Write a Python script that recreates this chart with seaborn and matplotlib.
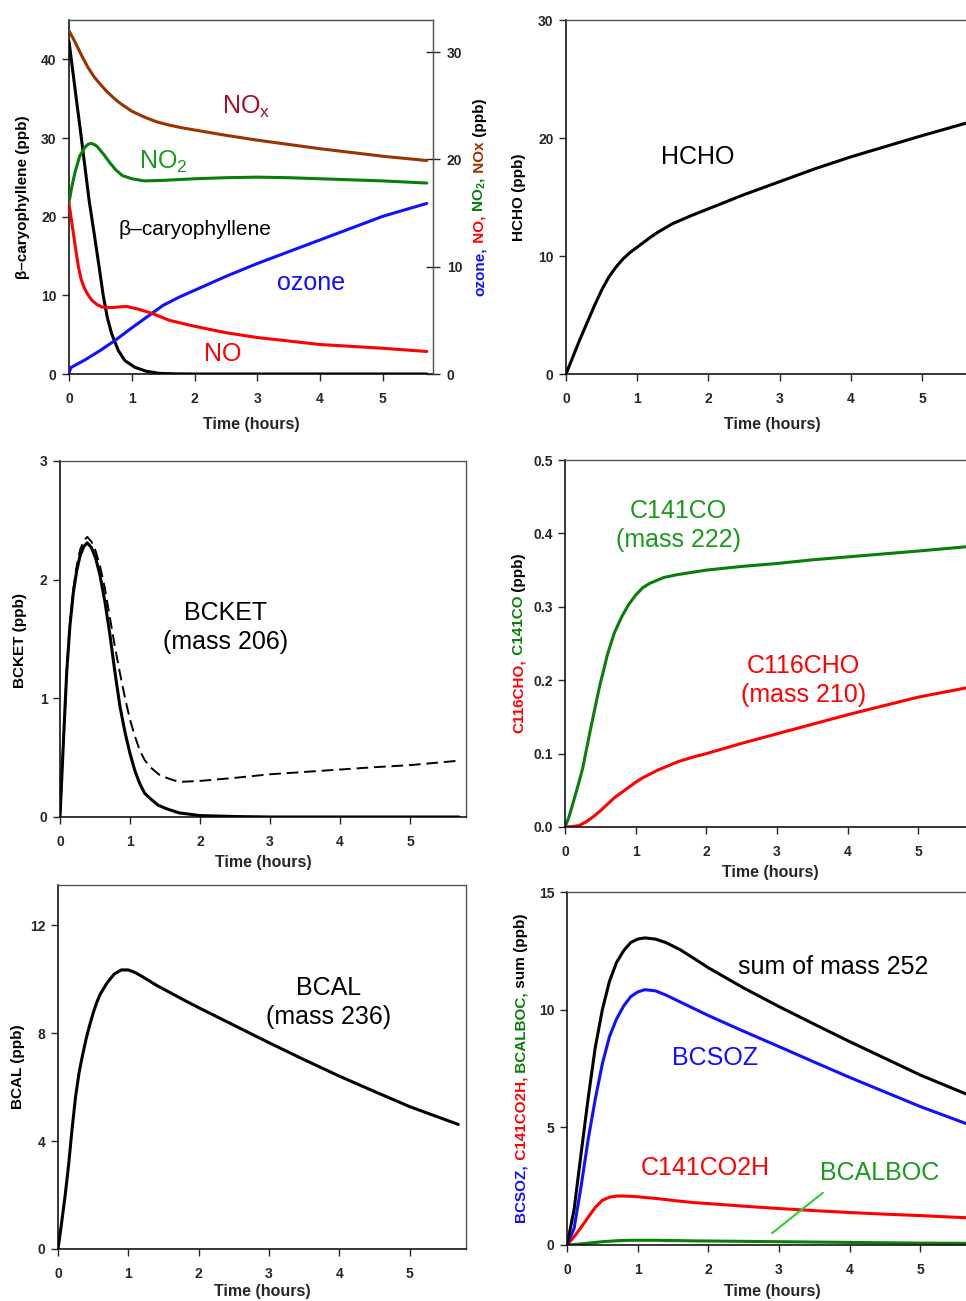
#!/usr/bin/env python3
"""
Six-panel box model results: beta-caryophyllene ozonolysis products vs time.
"""

import matplotlib

matplotlib.use("Agg")
import matplotlib.pyplot as plt
import seaborn as sns

# ---- panel 1: precursors (left axis) and NOx / ozone (right axis) ----
T_BCARY = [0, 0.1, 0.2, 0.32, 0.40, 0.48, 0.545, 0.61, 0.68, 0.785, 0.89, 1.05, 1.23, 1.44, 1.7, 2.0, 3, 4, 5, 5.7]
BCARY = [42.3, 36.0, 29.8, 22.1, 17.9, 13.6, 10.0, 7.2, 5.1, 3.0, 1.7, 0.85, 0.35, 0.08, 0.02, 0, 0, 0, 0, 0]

T_NOX = [0, 0.1, 0.2, 0.3, 0.4, 0.5, 0.6, 0.7, 0.8, 0.9, 1.0, 1.2, 1.4, 1.6, 1.8, 2.0, 2.5, 3, 3.5, 4, 4.5, 5, 5.7]
NOX = [32.0, 30.9, 29.7, 28.6, 27.7, 27.0, 26.35, 25.8, 25.3, 24.9, 24.5, 23.95, 23.5, 23.2, 22.95, 22.75,
       22.25, 21.8, 21.4, 21.0, 20.65, 20.3, 19.9]

T_NO2 = [0, 0.05, 0.1, 0.17, 0.25, 0.3, 0.35, 0.4, 0.45, 0.55, 0.65, 0.75, 0.85, 1.0, 1.2, 1.5, 2, 2.5,
         3, 3.5, 4, 4.5, 5, 5.7]
NO2 = [16.0, 17.6, 18.9, 20.3, 21.1, 21.4, 21.5, 21.4, 21.2, 20.5, 19.7, 19.0, 18.5, 18.2, 18.0, 18.05,
       18.2, 18.3, 18.35, 18.3, 18.2, 18.1, 18.0, 17.8]

T_NO = [0, 0.03, 0.07, 0.11, 0.15, 0.19, 0.235, 0.29, 0.36, 0.44, 0.52, 0.6, 0.70, 0.8, 0.92, 1.1, 1.32,
        1.6, 2.0, 2.5, 3, 4, 5, 5.7]
NO = [15.9, 14.7, 13.1, 11.5, 10.0, 8.9, 8.15, 7.5, 6.9, 6.5, 6.25, 6.2, 6.2, 6.25, 6.3, 6.05, 5.66,
      5.0, 4.45, 3.85, 3.4, 2.75, 2.4, 2.1]

T_O3 = [0, 0.03, 0.25, 0.5, 0.75, 1, 1.25, 1.5, 1.75, 2, 2.5, 3, 3.5, 4, 4.5, 5, 5.7]
O3 = [0.1, 0.6, 1.3, 2.2, 3.2, 4.3, 5.35, 6.4, 7.15, 7.8, 9.1, 10.3, 11.4, 12.5, 13.6, 14.7, 15.9]

# ---- panel 2: HCHO ----
T_HCHO = [0, 0.1, 0.2, 0.3, 0.4, 0.5, 0.6, 0.7, 0.8, 0.9, 1.0, 1.1, 1.2, 1.3, 1.4, 1.5, 1.75, 2, 2.5,
          3, 3.5, 4, 4.5, 5, 5.7]
HCHO = [0, 1.5, 3.0, 4.4, 5.8, 7.1, 8.2, 9.05, 9.75, 10.3, 10.75, 11.2, 11.65, 12.05, 12.4, 12.75,
        13.4, 14.0, 15.2, 16.3, 17.4, 18.4, 19.3, 20.2, 21.4]

# ---- panel 3: BCKET (solid) and alternative run (dashed) ----
T_BCKET = [0, 0.05, 0.095, 0.14, 0.19, 0.24, 0.286, 0.34, 0.39, 0.45, 0.51, 0.57, 0.64, 0.71, 0.78,
           0.857, 0.93, 1.0, 1.07, 1.14, 1.21, 1.29, 1.4, 1.52, 1.7, 2.0, 2.5, 3, 4, 5, 5.7]
BCKET = [0, 0.65, 1.21, 1.6, 1.89, 2.08, 2.2, 2.28, 2.31, 2.27, 2.18, 2.04, 1.82, 1.55, 1.24,
         0.93, 0.71, 0.535, 0.39, 0.28, 0.2, 0.155, 0.1, 0.07, 0.035, 0.012, 0.004, 0, 0, 0, 0]
T_BCKET_ALT = [0, 0.05, 0.095, 0.14, 0.19, 0.24, 0.286, 0.34, 0.39, 0.45, 0.51, 0.57, 0.64, 0.71, 0.78,
               0.857, 0.93, 1.0, 1.07, 1.14, 1.21, 1.29, 1.43, 1.62, 1.71, 2.0, 2.5, 3, 3.5, 4, 4.5, 5, 5.67]
BCKET_ALT = [0, 0.65, 1.22, 1.62, 1.92, 2.12, 2.25, 2.33, 2.36, 2.32, 2.24, 2.12, 1.93, 1.69, 1.45,
             1.21, 1.0, 0.82, 0.68, 0.56, 0.48, 0.42, 0.35, 0.31, 0.296, 0.304, 0.33, 0.36, 0.38, 0.40, 0.42, 0.437, 0.473]

# ---- panel 4: C141CO and C116CHO ----
T_C141CO = [0, 0.05, 0.1, 0.15, 0.2, 0.25, 0.3, 0.35, 0.4, 0.45, 0.5, 0.55, 0.6, 0.7, 0.8, 0.9, 1.0,
            1.1, 1.2, 1.3, 1.4, 1.6, 1.8, 2, 2.5, 3, 3.5, 4, 4.5, 5, 5.7]
C141CO = [0, 0.012, 0.028, 0.045, 0.062, 0.08, 0.104, 0.128, 0.151, 0.174, 0.196, 0.215, 0.235, 0.265,
          0.286, 0.303, 0.316, 0.326, 0.332, 0.336, 0.34, 0.344, 0.347, 0.35, 0.355, 0.359, 0.364,
          0.368, 0.372, 0.376, 0.382]
T_C116CHO = [0, 0.1, 0.2, 0.3, 0.4, 0.5, 0.6, 0.7, 0.8, 0.9, 1.0, 1.1, 1.2, 1.3, 1.4, 1.6, 1.8, 2,
             2.5, 3, 3.5, 4, 4.5, 5, 5.7]
C116CHO = [0, 0.0005, 0.002, 0.007, 0.014, 0.022, 0.031, 0.04, 0.047, 0.054, 0.061, 0.067, 0.072,
           0.077, 0.081, 0.089, 0.095, 0.10, 0.114, 0.127, 0.14, 0.153, 0.165, 0.177, 0.19]

# ---- panel 5: BCAL ----
T_BCAL = [0, 0.05, 0.1, 0.15, 0.2, 0.25, 0.3, 0.35, 0.4, 0.45, 0.5, 0.55, 0.6, 0.7, 0.8, 0.9, 1.0,
          1.1, 1.2, 1.4, 1.6, 1.8, 2.0, 2.5, 3, 3.5, 4, 4.5, 5, 5.69]
BCAL = [0, 0.95, 1.95, 3.1, 4.45, 5.65, 6.55, 7.2, 7.8, 8.3, 8.75, 9.14, 9.45, 9.88, 10.2, 10.35,
        10.35, 10.25, 10.1, 9.78, 9.5, 9.22, 8.95, 8.3, 7.65, 7.02, 6.41, 5.84, 5.28, 4.62]

# ---- panel 6: mass 252 products ----
T_252 = [0, 0.1, 0.2, 0.3, 0.4, 0.5, 0.6, 0.7, 0.8, 0.9, 1.0, 1.1, 1.25, 1.4, 1.6, 1.8, 2, 2.5, 3,
         3.5, 4, 4.5, 5, 5.7]
SUM_252 = [0, 1.5, 3.9, 6.25, 8.4, 10.0, 11.2, 12.0, 12.5, 12.85, 13.0, 13.05, 13.0, 12.85, 12.55,
           12.17, 11.78, 10.92, 10.13, 9.38, 8.64, 7.93, 7.22, 6.35]
BCSOZ = [0, 0.7, 2.5, 4.5, 6.2, 7.7, 8.85, 9.6, 10.15, 10.55, 10.75, 10.85, 10.8, 10.62, 10.33, 10.04,
         9.75, 9.08, 8.43, 7.77, 7.12, 6.5, 5.88, 5.1]
C141CO2H = [0, 0.35, 0.75, 1.18, 1.6, 1.9, 2.03, 2.08, 2.08, 2.07, 2.05, 2.02, 1.98, 1.93, 1.86, 1.8,
            1.76, 1.65, 1.55, 1.46, 1.38, 1.31, 1.25, 1.15]
BCALBOC = [0, 0.02, 0.05, 0.08, 0.11, 0.14, 0.16, 0.18, 0.19, 0.2, 0.2, 0.2, 0.2, 0.19, 0.185, 0.175,
           0.17, 0.155, 0.14, 0.125, 0.11, 0.095, 0.08, 0.07]

HOURS = [0, 1, 2, 3, 4, 5]

BLACK = "black"
RED = "#ff0000"
BLUE = "#1010ff"
GREEN_LINE = "#0b7d0b"
GREEN_TEXT = "#1a9a1a"
BROWN = "#993300"
NOX_TEXT = "#a30f2d"
POINTER = "#33cc33"

W, H = 966, 1301
LW = 2.2
ANNOT_SIZE = 18

sns.set_style("ticks")
plt.rcParams["font.family"] = ["Liberation Sans", "DejaVu Sans"]
plt.rcParams["mathtext.fontset"] = "custom"
plt.rcParams["mathtext.rm"] = "Liberation Sans"
plt.rcParams["mathtext.bf"] = "Liberation Sans:bold"
plt.rcParams["lines.solid_joinstyle"] = "round"
plt.rcParams["lines.solid_capstyle"] = "round"

fig = plt.figure(figsize=(W / 100, H / 100), dpi=100)


def add_panel(left, right, top, bottom):
    return fig.add_axes([left / W, 1 - bottom / H, (right - left) / W, (bottom - top) / H])


def style_axes(ax, ylim, yticks, ylabels, xlabel_y):
    ax.set_xlim(0, 5.8)
    ax.set_ylim(*ylim)
    ax.set_xticks(HOURS, labels=[str(h) for h in HOURS], fontweight="bold", fontsize=10)
    ax.set_yticks(yticks, labels=ylabels, fontweight="bold", fontsize=10)
    ax.tick_params(axis="x", direction="out", length=5, width=1, pad=8, top=False)
    ax.tick_params(axis="y", direction="out", length=5, width=1, pad=4, right=False)
    for side in ("left", "bottom"):
        ax.spines[side].set_color("black")
        ax.spines[side].set_linewidth(1.1)
    for side in ("top", "right"):
        ax.spines[side].set_color("#555555")
        ax.spines[side].set_linewidth(1.0)
    ax.set_xlabel("Time (hours)", fontweight="bold", fontsize=11.5)
    ax.set_ylabel("")
    bbox = ax.get_position()
    h_px = bbox.height * H
    bottom_px = (1 - bbox.y0) * H
    ax.xaxis.set_label_coords(0.5, -(xlabel_y - bottom_px - 8) / h_px)


def line(ax, t, v, color, lw=LW, **kw):
    sns.lineplot(x=t, y=v, ax=ax, color=color, linewidth=lw, estimator=None,
                 legend=False, **kw)


def vertical_label(parts, x_px, yc_px, size=11):
    """Rotated y label made of differently coloured pieces, centred at (x_px, yc_px)."""
    renderer = fig.canvas.get_renderer()
    texts, heights = [], []
    for s, c in parts:
        t = fig.text(0, 0, s, color=c, rotation=90, ha="center", va="bottom",
                     fontsize=size, fontweight="bold")
        texts.append(t)
        heights.append(t.get_window_extent(renderer).height)
    y = (H - yc_px) - sum(heights) / 2
    for t, h in zip(texts, heights):
        t.set_position((x_px / W, y / H))
        y += h


# Panel 1 ------------------------------------------------------------------
ax1 = add_panel(69, 433, 20, 374)
line(ax1, T_BCARY, BCARY, BLACK)
style_axes(ax1, (0, 45), [0, 10, 20, 30, 40], ["0", "10", "20", "30", "40"], 425)
ax1b = ax1.twinx()
line(ax1b, T_NOX, NOX, BROWN)
line(ax1b, T_NO2, NO2, GREEN_LINE)
line(ax1b, T_O3, O3, BLUE)
line(ax1b, T_NO, NO, RED)
ax1b.set_ylim(0, 33)
ax1b.set_yticks([0, 10, 20, 30], labels=["0", "10", "20", "30"], fontweight="bold", fontsize=10)
ax1b.tick_params(axis="y", direction="inout", length=10, width=1, pad=5)
ax1b.set_ylabel("")
for side in ("top", "right"):
    ax1b.spines[side].set_color("#555555")
ax1b.spines["left"].set_visible(False)
ax1b.spines["bottom"].set_visible(False)

ax1.text(2.83, 34.0, "NO$_\\mathregular{x}$", color=NOX_TEXT, fontsize=ANNOT_SIZE, ha="center", va="center")
ax1.text(1.50, 27.0, "NO$_\\mathregular{2}$", color=GREEN_TEXT, fontsize=ANNOT_SIZE, ha="center", va="center")
ax1.text(2.0, 18.4, "β–caryophyllene", color=BLACK, fontsize=15, ha="center", va="center")
ax1.text(3.85, 11.6, "ozone", color=BLUE, fontsize=ANNOT_SIZE, ha="center", va="center")
ax1.text(2.45, 2.6, "NO", color=RED, fontsize=ANNOT_SIZE, ha="center", va="center")

# Panel 2 ------------------------------------------------------------------
ax2 = add_panel(566, 979, 20, 374)
line(ax2, T_HCHO, HCHO, BLACK)
style_axes(ax2, (0, 30), [0, 10, 20, 30], ["0", "10", "20", "30"], 425)
ax2.text(1.85, 18.4, "HCHO", color=BLACK, fontsize=ANNOT_SIZE, ha="center", va="center")

# Panel 3 ------------------------------------------------------------------
ax3 = add_panel(60, 466, 461, 817)
line(ax3, T_BCKET_ALT, BCKET_ALT, BLACK, lw=1.4, linestyle=(0, (6, 3)))
line(ax3, T_BCKET, BCKET, BLACK)
style_axes(ax3, (0, 3), [0, 1, 2, 3], ["0", "1", "2", "3"], 863)
ax3.text(2.37, 1.6, "BCKET\n(mass 206)", color=BLACK, fontsize=ANNOT_SIZE, ha="center", va="center",
         linespacing=1.25)

# Panel 4 ------------------------------------------------------------------
ax4 = add_panel(565, 975, 460, 827)
line(ax4, T_C141CO, C141CO, GREEN_LINE)
line(ax4, T_C116CHO, C116CHO, RED)
style_axes(ax4, (0, 0.5), [0, 0.1, 0.2, 0.3, 0.4, 0.5],
           ["0.0", "0.1", "0.2", "0.3", "0.4", "0.5"], 873)
ax4.text(1.6, 0.411, "C141CO\n(mass 222)", color=GREEN_TEXT, fontsize=ANNOT_SIZE, ha="center",
         va="center", linespacing=1.25)
ax4.text(3.37, 0.200, "C116CHO\n(mass 210)", color=RED, fontsize=ANNOT_SIZE, ha="center",
         va="center", linespacing=1.25)

# Panel 5 ------------------------------------------------------------------
ax5 = add_panel(58, 466, 885, 1249)
line(ax5, T_BCAL, BCAL, BLACK)
style_axes(ax5, (0, 13.5), [0, 4, 8, 12], ["0", "4", "8", "12"], 1292)
ax5.text(3.85, 9.15, "BCAL\n(mass 236)", color=BLACK, fontsize=ANNOT_SIZE, ha="center", va="center",
         linespacing=1.25)

# Panel 6 ------------------------------------------------------------------
ax6 = add_panel(567, 977, 892, 1245)
line(ax6, T_252, BCALBOC, GREEN_LINE)
line(ax6, T_252, C141CO2H, RED)
line(ax6, T_252, BCSOZ, BLUE)
line(ax6, T_252, SUM_252, BLACK)
style_axes(ax6, (0, 15), [0, 5, 10, 15], ["0", "5", "10", "15"], 1292)
ax6.text(3.77, 11.8, "sum of mass 252", color=BLACK, fontsize=ANNOT_SIZE, ha="center", va="center")
ax6.text(2.09, 7.94, "BCSOZ", color=BLUE, fontsize=ANNOT_SIZE, ha="center", va="center")
ax6.text(1.96, 3.27, "C141CO2H", color=RED, fontsize=ANNOT_SIZE, ha="center", va="center")
ax6.text(4.42, 3.06, "BCALBOC", color=GREEN_TEXT, fontsize=ANNOT_SIZE, ha="center", va="center")
ax6.annotate("", xy=(2.9, 0.5), xytext=(3.62, 2.22),
             arrowprops=dict(arrowstyle="-", color=POINTER, lw=1.5, shrinkA=0, shrinkB=0))

# Y labels -----------------------------------------------------------------
vertical_label([("β–caryophyllene (ppb)", BLACK)], 23, 197)
vertical_label([("ozone,", BLUE), (" NO,", RED), (" NO$_\\mathbf{2}$,", GREEN_LINE),
                (" NOx", BROWN), (" (ppb)", BLACK)], 480, 197)
vertical_label([("HCHO (ppb)", BLACK)], 519, 197)
vertical_label([("BCKET (ppb)", BLACK)], 20, 640)
vertical_label([("C116CHO,", RED), (" C141CO", GREEN_LINE), (" (ppb)", BLACK)], 519, 643)
vertical_label([("BCAL (ppb)", BLACK)], 18, 1067)
vertical_label([("BCSOZ,", BLUE), (" C141CO2H,", RED), (" BCALBOC,", GREEN_LINE),
                (" sum (ppb)", BLACK)], 521, 1068)

fig.savefig("out.png", dpi=100)
plt.close(fig)
